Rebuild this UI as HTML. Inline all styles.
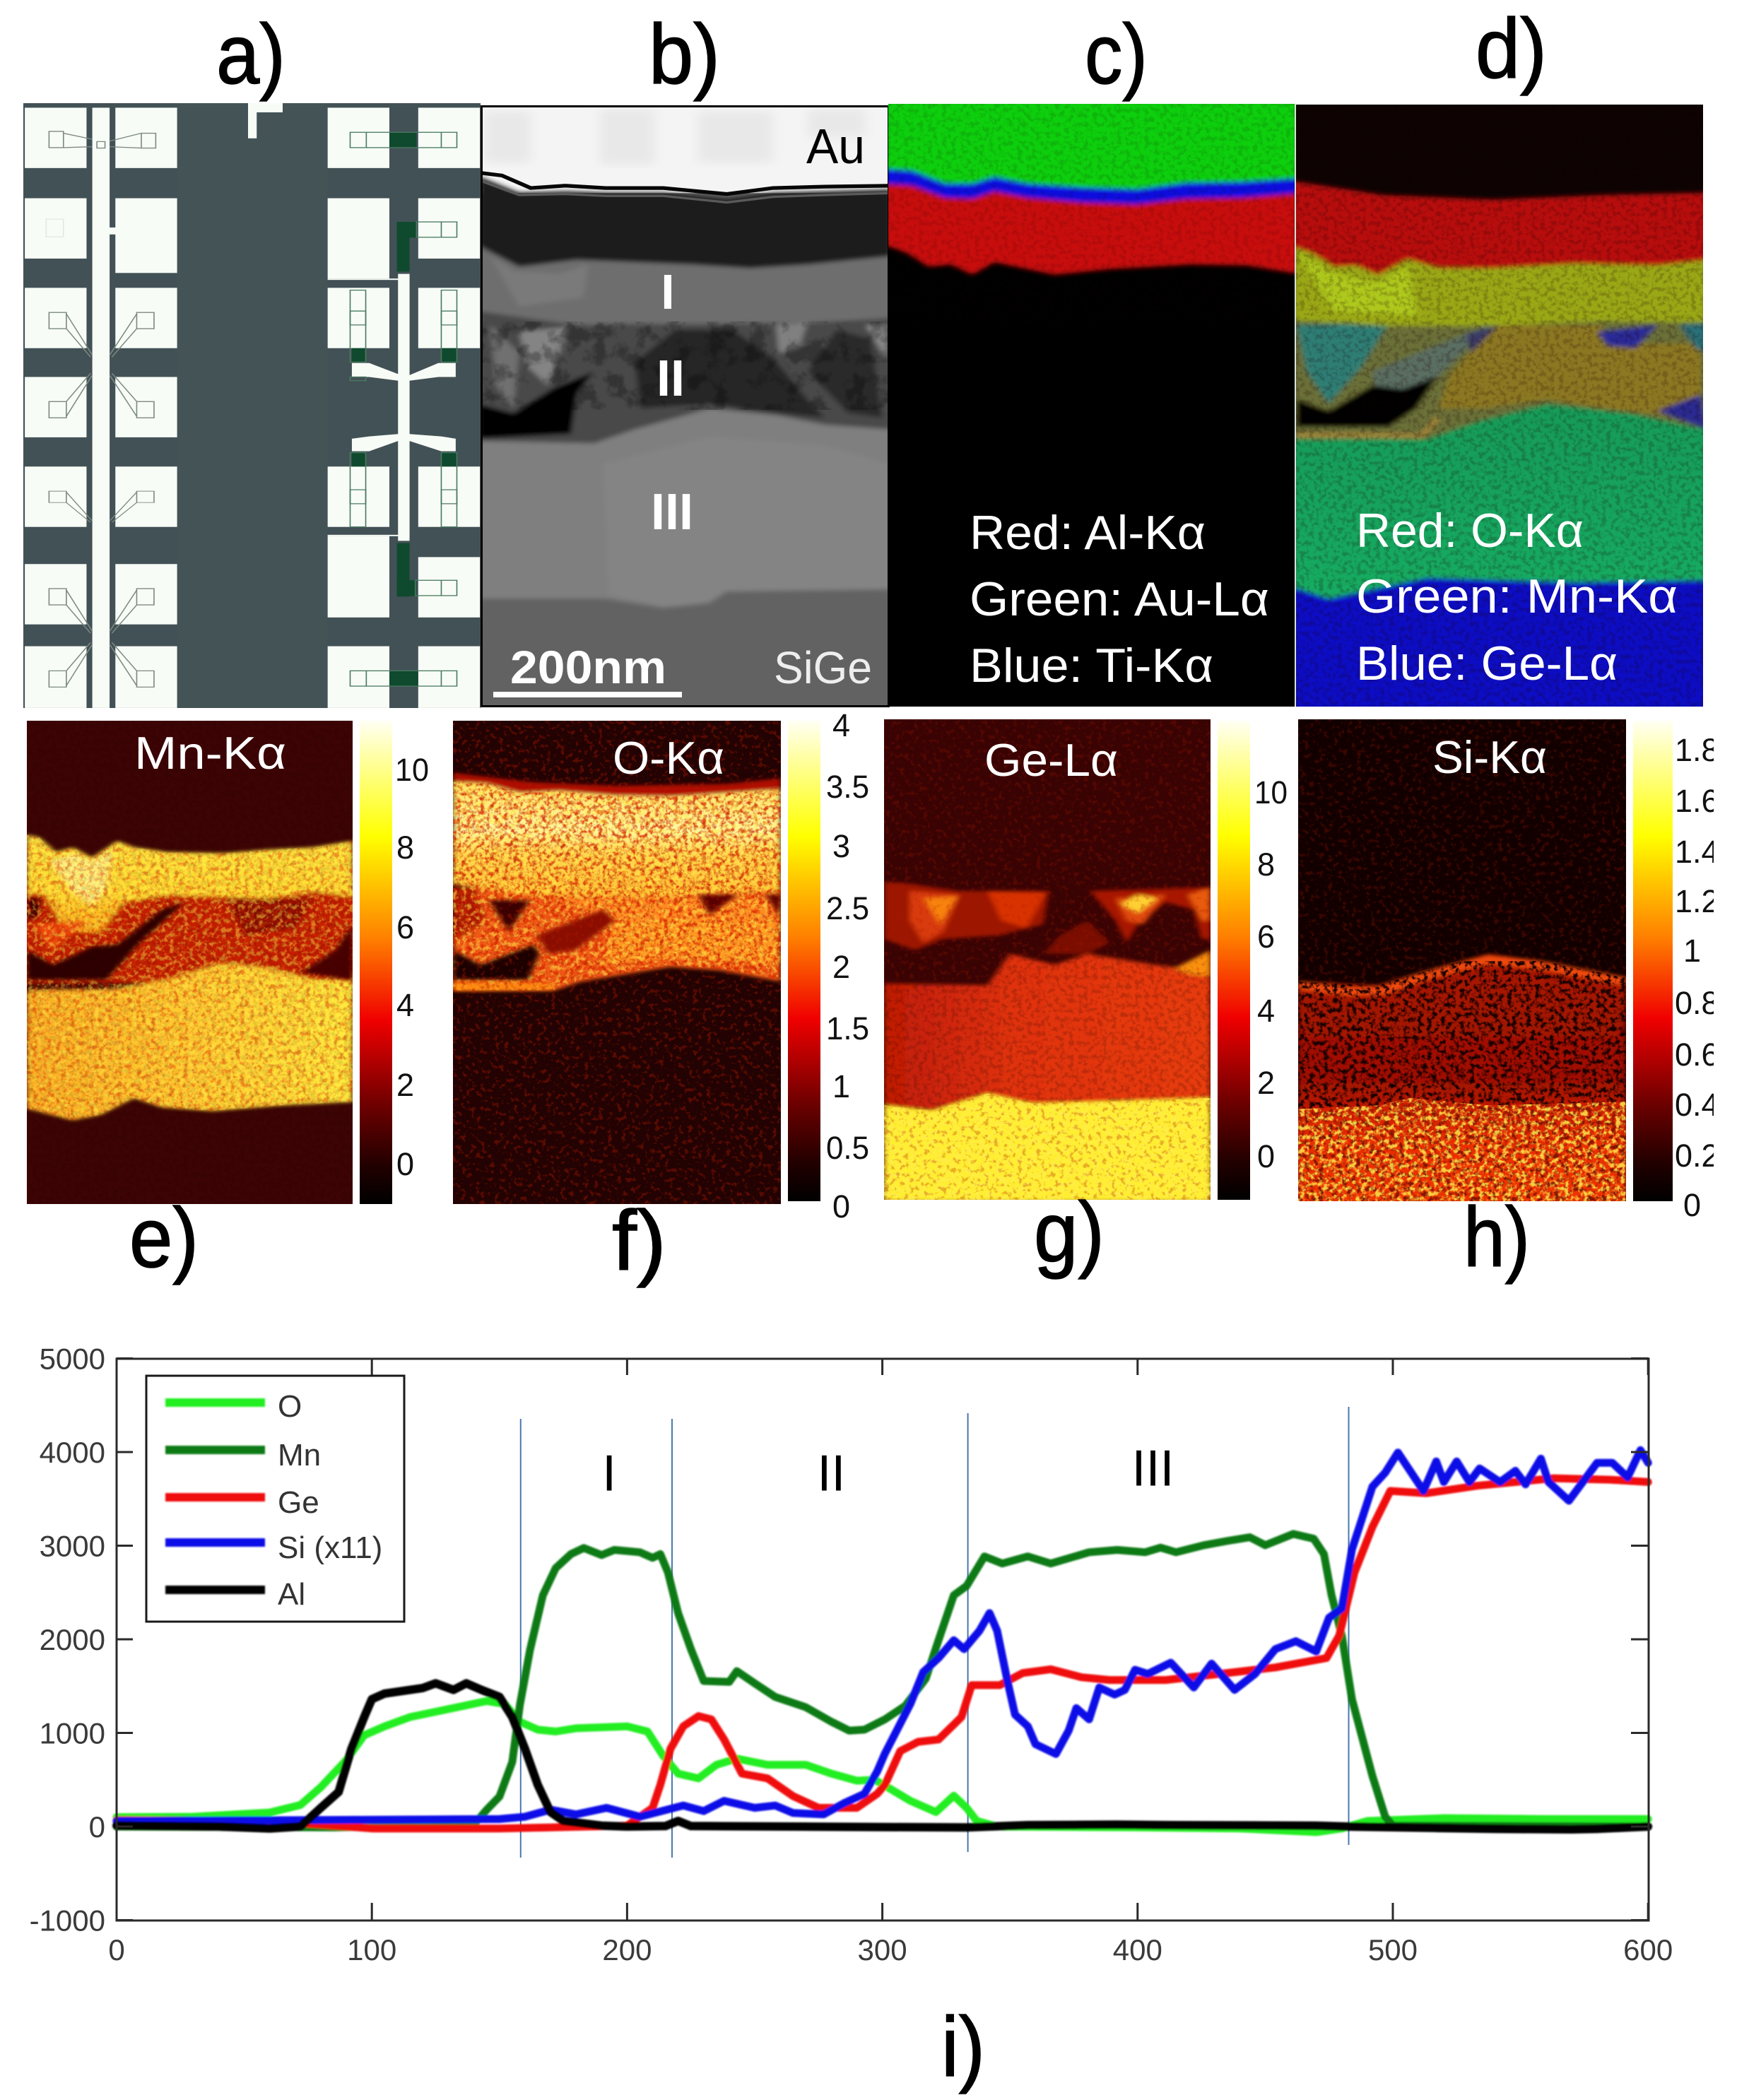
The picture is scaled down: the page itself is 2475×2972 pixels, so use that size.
<!DOCTYPE html>
<html lang="en">
<head>
<meta charset="utf-8">
<title>Multi-panel microscopy and EDX line profile figure</title>
<style>
html,body{margin:0;padding:0;background:#fff}
svg{display:block}
text{font-family:"Liberation Sans","DejaVu Sans",sans-serif}
</style>
</head>
<body>
<svg xmlns="http://www.w3.org/2000/svg" width="2475" height="2972" viewBox="0 0 2475 2972">
<defs>
  <linearGradient id="hot" x1="0" y1="1" x2="0" y2="0">
    <stop offset="0" stop-color="#000"/><stop offset=".08" stop-color="#220000"/><stop offset=".2" stop-color="#6b0000"/>
    <stop offset=".38" stop-color="#f00000"/><stop offset=".55" stop-color="#ff8000"/><stop offset=".76" stop-color="#ffff00"/>
    <stop offset=".92" stop-color="#ffffa0"/><stop offset="1" stop-color="#fffff4"/>
  </linearGradient>
  <linearGradient id="e3" x1="0" y1="0" x2="1" y2="0"><stop offset="0" stop-color="#fab024"/><stop offset=".5" stop-color="#ffcc30"/><stop offset="1" stop-color="#ffea3c"/></linearGradient>
  <linearGradient id="g3" x1="0" y1="0" x2="1" y2="0"><stop offset="0" stop-color="#c01c06"/><stop offset=".4" stop-color="#e03208"/><stop offset="1" stop-color="#e83c08"/></linearGradient>
  <linearGradient id="f1" x1="0" y1="0" x2="0" y2="1"><stop offset="0" stop-color="#ffe060"/><stop offset=".42" stop-color="#fff8a0"/><stop offset=".62" stop-color="#ffd850"/><stop offset="1" stop-color="#ffc030"/></linearGradient>
  <linearGradient id="e1" x1="0" y1="0" x2="0" y2="1"><stop offset="0" stop-color="#ffe840"/><stop offset=".6" stop-color="#ffdc30"/><stop offset="1" stop-color="#fca818"/></linearGradient>
  <linearGradient id="h3" x1="0" y1="0" x2="0" y2="1"><stop offset="0" stop-color="#a81400"/><stop offset=".5" stop-color="#a01000"/><stop offset=".66" stop-color="#c81c00"/><stop offset=".76" stop-color="#f03000"/><stop offset="1" stop-color="#f84000"/></linearGradient>
  <linearGradient id="d3" x1="0" y1="0" x2="0" y2="1"><stop offset="0" stop-color="#149a58"/><stop offset="1" stop-color="#12ac62"/></linearGradient>

  <filter id="soft2" x="-5%" y="-5%" width="110%" height="110%"><feGaussianBlur stdDeviation="5"/></filter>
  <filter id="soft5" x="-5%" y="-5%" width="110%" height="110%"><feGaussianBlur stdDeviation="10"/></filter>
  <filter id="softChart" x="-2%" y="-2%" width="104%" height="104%"><feGaussianBlur stdDeviation="1"/></filter>
  <filter id="softSwatch" x="-5%" y="-50%" width="110%" height="200%"><feGaussianBlur stdDeviation="1"/></filter>

  <filter id="grain-red" x="0" y="0" width="100%" height="100%" color-interpolation-filters="sRGB">
    <feTurbulence type="fractalNoise" baseFrequency="0.15" numOctaves="3" seed="4"/>
    <feColorMatrix values="0 0 0 0 .85  0 0 0 0 .16  0 0 0 0 0  4 0 0 0 -1.8"/>
  </filter>
  <filter id="grain-yellow" x="0" y="0" width="100%" height="100%" color-interpolation-filters="sRGB">
    <feTurbulence type="fractalNoise" baseFrequency="0.15" numOctaves="3" seed="11"/>
    <feColorMatrix values="0 0 0 0 1  0 0 0 0 .93  0 0 0 0 .3  4 0 0 0 -1.8"/>
  </filter>
  <filter id="grain-dark" x="0" y="0" width="100%" height="100%" color-interpolation-filters="sRGB">
    <feTurbulence type="fractalNoise" baseFrequency="0.15" numOctaves="3" seed="23"/>
    <feColorMatrix values="0 0 0 0 .1  0 0 0 0 0  0 0 0 0 0  4 0 0 0 -1.8"/>
  </filter>
  <filter id="grain-speck" x="0" y="0" width="100%" height="100%" color-interpolation-filters="sRGB">
    <feTurbulence type="fractalNoise" baseFrequency="0.15" numOctaves="3" seed="37"/>
    <feColorMatrix values="0 0 0 0 .7  0 0 0 0 .1  0 0 0 0 0  6 0 0 0 -3.3"/>
  </filter>
  <filter id="grain-grey" x="0" y="0" width="100%" height="100%" color-interpolation-filters="sRGB">
    <feTurbulence type="fractalNoise" baseFrequency="0.035" numOctaves="4" seed="8"/>
    <feColorMatrix values="0 0 0 0 0  0 0 0 0 0  0 0 0 0 0  5 0 0 0 -2.4"/>
  </filter>

  <clipPath id="clip-a"><rect x="33" y="146" width="647" height="856"/></clipPath>
  <clipPath id="clip-b"><rect x="680" y="149" width="578" height="852"/></clipPath>
  <clipPath id="clip-c"><rect x="1257" y="147" width="575" height="853"/></clipPath>
  <clipPath id="clip-d"><rect x="1834" y="148" width="576" height="852"/></clipPath>
  <clipPath id="clip-e"><rect x="38" y="1020" width="461" height="684"/></clipPath>
  <clipPath id="clip-f"><rect x="641" y="1020" width="464" height="684"/></clipPath>
  <clipPath id="clip-g"><rect x="1251" y="1018" width="462" height="680"/></clipPath>
  <clipPath id="clip-h"><rect x="1837" y="1018" width="464" height="682"/></clipPath>
  <clipPath id="clip-h-labels"><rect x="2360" y="1030" width="65" height="700"/></clipPath>

  <clipPath id="e-layers"><polygon transform="translate(0,1010) scale(.7908,.523)" points="48,328 70,335 100,375 130,362 165,390 210,345 240,362 300,375 400,378 480,368 560,362 631,345 631,1050 500,1060 380,1075 290,1065 240,1040 180,1085 130,1100 48,1068"/></clipPath>
  <clipPath id="f-layers"><polygon transform="translate(0,1010) scale(.7908,.523)" points="811,185 870,190 930,215 1000,210 1100,222 1200,225 1300,215 1397,205 1397,720 1290,690 1200,680 1040,720 990,748 811,748"/></clipPath>
  <clipPath id="g-bottom"><polygon transform="translate(1240,1010) scale(.7874,.523)" points="14,1060 100,1075 200,1028 280,1055 400,1050 601,1040 601,1315 14,1315"/></clipPath>
  <clipPath id="g-mid"><polygon transform="translate(1240,1010) scale(.7874,.523)" points="14,730 200,735 240,650 320,680 380,650 500,680 560,690 601,710 601,1040 400,1050 280,1055 200,1028 100,1075 14,1060"/></clipPath>
  <clipPath id="h-lower"><polygon transform="translate(1240,1010) scale(.7874,.523)" points="758,725 900,735 980,700 1100,650 1200,670 1347,715 1347,1320 758,1320"/></clipPath>
  <clipPath id="h-bottom"><polygon transform="translate(1240,1010) scale(.7874,.523)" points="758,1070 900,1060 960,1040 1100,1060 1347,1050 1347,1320 758,1320"/></clipPath>

  <g id="tap-device" fill="none" stroke="#7d8a82" stroke-width="2">
    <path d="M85 0h30v35h-30zM115 3L160 92M115 35L157 96M237 0h30v35h-30zM237 3L190 92M237 35L194 96"/>
  </g>
</defs>

<rect width="2475" height="2972" fill="#fff"/>

<!-- PANEL A -->
<g clip-path="url(#clip-a)">
  <g transform="scale(.8163,.657)">
    <rect x="40" y="222" width="800" height="1310" fill="#425156"/>
    <rect x="307" y="222" width="261" height="1310" fill="#445356"/>
    <g fill="#f8fcf6">
      <rect x="43" y="232" width="107" height="130"/><rect x="200" y="232" width="107" height="130"/>
      <rect x="43" y="427" width="107" height="130"/><rect x="200" y="427" width="107" height="161"/>
      <rect x="43" y="620" width="107" height="130"/><rect x="200" y="620" width="107" height="130"/>
      <rect x="43" y="812" width="107" height="130"/><rect x="200" y="812" width="107" height="130"/>
      <rect x="43" y="1005" width="107" height="130"/><rect x="200" y="1005" width="107" height="130"/>
      <rect x="43" y="1215" width="107" height="130"/><rect x="200" y="1215" width="107" height="130"/>
      <rect x="43" y="1392" width="107" height="133"/><rect x="200" y="1392" width="107" height="133"/>
      <rect x="160" y="232" width="30" height="1293"/>
      <rect x="188" y="490" width="18" height="15"/>
    </g>
    <g>
      <path d="M85 283h25v35h-25zM110 287L160 300M110 318L160 316M245 287h25v32h-25zM245 287L190 304M245 319L190 316M168 305h14v14h-14z" fill="none" stroke="#7d8a82" stroke-width="2"/>
      <use href="#tap-device" transform="translate(0,673)"/>
      <use href="#tap-device" transform="translate(0,900) scale(1,-1)"/>
      <use href="#tap-device" transform="translate(0,1058) scale(1,.7)"/>
      <use href="#tap-device" transform="translate(0,1268)"/>
      <use href="#tap-device" transform="translate(0,1480) scale(1,-1)"/>
      <path d="M80 472h30v38h-30z" fill="none" stroke="#e4e8e4" stroke-width="2"/>
    </g>
    <g fill="#f8fcf6">
      <rect x="568" y="232" width="107" height="130"/><rect x="725" y="232" width="107" height="130"/>
      <rect x="568" y="427" width="107" height="173"/><rect x="725" y="427" width="107" height="130"/>
      <rect x="568" y="620" width="107" height="130"/><rect x="725" y="620" width="107" height="130"/>
      <rect x="568" y="1005" width="107" height="130"/><rect x="725" y="1005" width="107" height="130"/>
      <rect x="568" y="1155" width="107" height="175"/><rect x="725" y="1200" width="107" height="130"/>
      <rect x="568" y="1392" width="107" height="133"/><rect x="725" y="1392" width="107" height="133"/>
      <rect x="690" y="590" width="20" height="575"/>
      <rect x="568" y="600" width="125" height="3"/><rect x="568" y="1152" width="125" height="3"/>
      <polygon points="610,782 640,782 695,808 710,808 760,782 790,782 790,812 760,812 710,820 690,820 640,812 610,812"/>
      <polygon points="610,945 640,940 690,935 710,935 765,940 790,945 790,972 765,972 710,950 690,950 640,972 610,972"/>
      <rect x="430" y="222" width="60" height="20"/><rect x="430" y="222" width="15" height="76"/>
    </g>
    <g fill="#0f4a2e">
      <rect x="675" y="285" width="47" height="33"/><rect x="688" y="478" width="34" height="34"/><rect x="688" y="478" width="22" height="107"/>
      <rect x="610" y="750" width="25" height="30"/><rect x="765" y="750" width="27" height="30"/>
      <rect x="610" y="975" width="25" height="30"/><rect x="765" y="975" width="27" height="30"/>
      <rect x="688" y="1170" width="22" height="115"/><rect x="688" y="1250" width="34" height="34"/>
      <rect x="675" y="1445" width="50" height="33"/>
    </g>
    <g fill="none" stroke="#4a7a60" stroke-width="2">
      <rect x="607" y="285" width="185" height="33"/><path d="M635 285v33M765 285v33"/>
      <rect x="722" y="478" width="70" height="33"/><path d="M765 478v33"/>
      <rect x="607" y="625" width="27" height="155"/><rect x="765" y="625" width="27" height="155"/>
      <path d="M607 670h27v30h-27zM765 670h27v30h-27zM607 1055h27v30h-27zM765 1055h27v30h-27z"/>
      <rect x="607" y="812" width="27" height="8"/>
      <rect x="607" y="975" width="27" height="160"/><rect x="765" y="975" width="27" height="160"/>
      <rect x="720" y="1250" width="72" height="33"/><path d="M765 1250v33"/>
      <rect x="607" y="1445" width="185" height="33"/><path d="M635 1445v33M765 1445v33"/>
    </g>
  </g>
</g>

<!-- PANEL B -->
<g clip-path="url(#clip-b)">
  <rect x="680" y="149" width="578" height="852" fill="#626262"/>
  <g transform="scale(.8163,.657)">
    <rect x="833" y="226" width="710" height="190" fill="#f4f4f4"/>
    <g fill="#e8e8e8" filter="url(#soft5)">
      <rect x="840" y="240" width="80" height="110"/><rect x="1040" y="235" width="95" height="120"/><rect x="1210" y="240" width="130" height="110"/><rect x="1400" y="235" width="100" height="60"/>
    </g>
    <g filter="url(#soft2)">
      <polygon fill="#7f7f7f" points="830,950 1030,955 1100,925 1230,880 1350,895 1430,915 1545,925 1545,1270 1260,1275 1230,1300 1150,1310 1050,1290 830,1290"/>
      <polygon fill="#848484" points="1045,1000 1230,940 1430,960 1545,1000 1545,1268 1258,1272 1225,1295 1150,1305 1055,1280 1050,1120"/>
      <polygon fill="#4a4a4a" points="830,670 1000,695 1200,700 1400,695 1545,680 1545,925 1430,915 1350,895 1230,880 1100,925 1030,955 830,950"/>
      <polygon fill="#282828" points="1100,780 1170,710 1270,710 1340,770 1400,860 1430,900 1350,890 1230,870 1110,880"/>
      <polygon fill="#2a2a2a" points="1400,800 1450,710 1510,730 1530,900 1470,890"/>
      <polygon fill="#848484" points="900,715 985,705 950,830 915,790"/>
      <polygon fill="#707070" points="850,700 900,760 890,880 860,830"/>
      <polygon fill="#808080" points="1345,700 1400,695 1385,750 1350,760"/>
      <polygon fill="#888888" points="1500,700 1540,700 1535,770"/>
      <polygon fill="#050505" points="830,870 890,890 960,835 1030,800 1000,850 990,935 830,945"/>
      <polygon fill="#6e6e6e" points="830,530 900,575 1000,560 1100,565 1200,570 1300,578 1400,570 1545,552 1545,685 1400,695 1200,695 1000,700 830,670"/>
      <polygon fill="#7a7a7a" points="850,550 890,585 970,590 1020,570 1010,640 900,660"/>
      <polygon fill="#1e1e1e" points="830,380 900,415 980,412 1050,415 1150,415 1260,428 1340,415 1430,412 1545,408 1545,552 1400,570 1300,578 1200,570 1100,565 1000,560 900,575 830,530"/>
    </g>
    <polyline fill="none" stroke="#5a5a5a" stroke-width="5" points="830,388 900,420 980,418 1050,422 1150,422 1260,436 1340,424 1430,420 1545,416"/>
    <polyline fill="none" stroke="#060606" stroke-width="8" points="830,372 870,378 920,405 980,400 1050,405 1150,405 1260,418 1340,405 1430,402 1545,400"/>
  </g>
  <rect x="680" y="455" width="578" height="125" filter="url(#grain-grey)" opacity=".28"/>
  <rect x="698" y="979" width="267" height="8" fill="#fff"/>
</g>
<rect x="681.500" y="150.500" width="576" height="849" fill="none" stroke="#000" stroke-width="3"/>
<text x="1141" y="231" font-size="70" textLength="83" lengthAdjust="spacingAndGlyphs" fill="#000">Au</text>
<text x="945" y="437" font-size="70" font-weight="700" text-anchor="middle" fill="#fff">I</text>
<text x="949" y="560" font-size="72" font-weight="700" text-anchor="middle" fill="#fff">II</text>
<text x="951" y="749" font-size="72" font-weight="700" text-anchor="middle" fill="#fff">III</text>
<text x="722" y="967" font-size="66" font-weight="700" textLength="221" lengthAdjust="spacingAndGlyphs" fill="#fff">200nm</text>
<text x="1095" y="967" font-size="64" textLength="139" lengthAdjust="spacingAndGlyphs" fill="#eee">SiGe</text>

<!-- PANEL C -->
<g clip-path="url(#clip-c)">
  <rect x="1257" y="147" width="575" height="853" fill="#000"/>
  <g transform="translate(1260,0) scale(.7752,.657)" filter="url(#soft2)">
    <polygon fill="#c80a0a" points="-10,392 40,392 100,420 150,422 190,405 250,420 350,430 450,434 540,420 640,418 745,408 745,590 650,572 550,570 400,580 300,592 190,565 150,592 110,570 70,575 30,545 0,532 -10,532"/>
    <polygon fill="#0ecf0e" points="-10,215 745,215 745,390 640,398 540,400 450,414 350,410 250,402 190,388 150,402 100,402 40,374 -10,370"/>
    <polygon fill="#0808e0" points="-10,364 40,368 100,396 150,396 190,381 250,396 350,404 450,408 540,394 640,392 745,384 745,416 640,426 540,428 450,440 350,436 250,426 190,412 150,428 100,426 40,400 -10,396"/>
  </g>
  <rect x="1257" y="147" width="575" height="310" filter="url(#grain-dark)" opacity=".12"/>
</g>
<rect x="1832" y="147" width="2" height="853" fill="#d8e4d8"/>
<g fill="#fff" font-size="68">
  <text x="1372" y="777" textLength="334" lengthAdjust="spacingAndGlyphs">Red: Al-Kα</text>
  <text x="1372" y="871" textLength="424" lengthAdjust="spacingAndGlyphs">Green: Au-Lα</text>
  <text x="1372" y="965" textLength="345" lengthAdjust="spacingAndGlyphs">Blue: Ti-Kα</text>
</g>

<!-- PANEL D -->
<g clip-path="url(#clip-d)">
  <rect x="1834" y="148" width="576" height="852" fill="#0d0303"/>
  <g transform="translate(1260,0) scale(.7752,.657)">
    <g filter="url(#soft2)">
      <polygon fill="#0a0ac4" points="735,1240 1490,1240 1490,1530 735,1530"/>
      <polygon fill="#b81010" points="735,390 900,420 1100,430 1300,420 1490,415 1490,600 735,600"/>
      <polygon fill="#6a7038" points="735,680 1490,680 1490,930 735,950"/>
      <polygon fill="#2e7e74" points="741,700 910,695 860,790 800,870 760,800"/>
      <polygon fill="#5a6e62" points="880,800 1100,695 1000,810 890,880"/>
      <polygon fill="#8c7822" points="1100,700 1300,700 1300,740 1480,740 1480,860 1420,895 1300,880 1200,860 1080,880 1000,880 1020,810"/>
      <polygon fill="#2a2c98" points="1290,715 1400,700 1360,750 1310,745"/>
      <polygon fill="#2a6f78" points="1440,700 1490,695 1490,760 1470,750"/>
      <polygon fill="#2c2c90" points="1400,885 1480,850 1490,925"/>
      <polygon fill="#3a3a66" points="1050,720 1110,700 1060,760"/>
      <polygon fill="#050303" points="741,860 800,885 880,830 935,838 1000,810 960,880 910,920 741,920"/>
      <polygon fill="#9aa818" points="735,532 770,545 810,575 850,572 890,592 945,558 1000,578 1100,578 1250,568 1400,572 1490,560 1490,695 1300,692 1100,702 900,702 735,690"/>
      <polygon fill="#aec81c" points="745,545 810,590 890,610 945,575 960,680 810,670"/>
      <polygon fill="url(#d3)" points="735,945 980,945 1080,905 1200,870 1350,890 1490,925 1490,1250 1250,1255 980,1245 800,1290 735,1265"/>
      <polyline fill="none" stroke="#a88838" stroke-width="9" points="741,938 900,938 970,940 1000,900"/>
    </g>
  </g>
  <rect x="1834" y="148" width="576" height="852" filter="url(#grain-dark)" opacity=".2"/>
</g>
<g fill="#fff" font-size="68">
  <text x="1919" y="774" textLength="322" lengthAdjust="spacingAndGlyphs">Red: O-Kα</text>
  <text x="1919" y="867" textLength="455" lengthAdjust="spacingAndGlyphs">Green: Mn-Kα</text>
  <text x="1919" y="962" textLength="370" lengthAdjust="spacingAndGlyphs">Blue: Ge-Lα</text>
</g>

<!-- PANEL E -->
<g clip-path="url(#clip-e)">
  <rect x="38" y="1020" width="461" height="684" fill="#3c0404"/>
  <g transform="translate(0,1010) scale(.7908,.523)" filter="url(#soft2)">
    <polygon fill="#c01a02" points="40,480 640,480 640,725 40,730"/>
    <polygon fill="url(#e1)" points="48,328 70,335 100,375 130,362 165,390 210,345 240,362 300,375 400,378 480,368 560,362 631,345 631,495 560,480 480,500 300,490 220,510 180,590 120,590 80,490 48,485"/>
    <polygon fill="#fff080" points="90,400 130,380 165,400 200,370 190,470 165,520 130,480"/>
    <polygon fill="#3a0303" points="48,495 75,500 70,550 48,560"/>
    <polygon fill="#8c0e00" points="400,500 560,500 530,580 440,600"/>
    <polygon fill="#f04808" points="60,570 160,560 90,640"/>
    <polygon fill="url(#e3)" points="48,748 200,745 300,720 400,675 480,690 560,720 631,725 631,1050 500,1060 380,1075 290,1065 240,1040 180,1085 130,1100 48,1068"/>
  </g>
  <g clip-path="url(#e-layers)">
    <rect x="38" y="1020" width="461" height="684" filter="url(#grain-red)" opacity=".45"/>
    <rect x="38" y="1020" width="461" height="684" filter="url(#grain-yellow)" opacity=".45"/>
  </g>
  <g transform="translate(0,1010) scale(.7908,.523)" filter="url(#soft2)">
    <polygon fill="#2e0202" points="48,640 95,680 165,630 210,625 290,530 330,510 250,620 190,720 48,720"/>
    <polygon fill="#4a0303" points="600,640 631,570 631,720 540,700"/>
  </g>
  <rect x="38" y="1020" width="461" height="684" filter="url(#grain-dark)" opacity=".1"/>
</g>
<text x="190" y="1088" font-size="65" fill="#fff" textLength="215" lengthAdjust="spacingAndGlyphs">Mn-Kα</text>
<rect x="509" y="1020" width="46" height="684" fill="url(#hot)"/>
<g font-size="45" fill="#111">
  <text x="559" y="1105" textLength="48" lengthAdjust="spacingAndGlyphs">10</text>
  <text x="561" y="1215">8</text>
  <text x="561" y="1328">6</text>
  <text x="561" y="1438">4</text>
  <text x="561" y="1551">2</text>
  <text x="561" y="1663">0</text>
</g>

<!-- PANEL F -->
<g clip-path="url(#clip-f)">
  <rect x="641" y="1020" width="464" height="684" fill="#220202"/>
  <g transform="translate(0,1010) scale(.7908,.523)" filter="url(#soft2)">
    <polygon fill="#b01000" points="811,160 950,185 1100,195 1300,190 1397,175 1397,230 811,230"/>
    <polygon fill="#f05818" points="811,470 1397,470 1397,725 1290,695 1200,685 1040,725 990,750 811,750"/>
    <polygon fill="url(#f1)" points="811,185 870,190 930,215 1000,210 1100,222 1200,225 1300,215 1397,205 1397,480 1250,490 1100,495 950,490 860,470 811,460"/>
    <polygon fill="#a81400" points="811,470 850,465 870,560 820,610 811,600"/>
    <polygon fill="#ff9820" points="1100,560 1390,560 1390,680 1200,660 1080,680"/>
    <polygon fill="#ff8a20" points="1000,500 1390,500 1390,560 1100,560"/>
  </g>
  <g clip-path="url(#f-layers)">
    <rect x="641" y="1020" width="464" height="684" filter="url(#grain-red)" opacity=".8"/>
    <rect x="641" y="1020" width="464" height="684" filter="url(#grain-yellow)" opacity=".55"/>
  </g>
  <g transform="translate(0,1010) scale(.7908,.523)" filter="url(#soft2)">
    <polygon fill="#3a0300" points="875,505 948,505 910,590"/>
    <polygon fill="#5a0600" points="1250,490 1320,490 1270,545"/>
    <polygon fill="#8a0c00" points="960,600 1080,530 1100,560 1030,640 980,650"/>
    <polygon fill="#5a0500" points="1370,490 1397,490 1397,550"/>
    <polygon fill="#1c0000" points="811,640 860,680 955,625 965,650 945,720 811,720"/>
    <polygon fill="#ff9010" points="811,730 990,732 990,745 811,748"/>
  </g>
  <rect x="641" y="1020" width="464" height="684" filter="url(#grain-speck)" opacity=".4"/>
</g>
<text x="867" y="1095" font-size="65" fill="#fff" textLength="158" lengthAdjust="spacingAndGlyphs">O-Kα</text>
<rect x="1115" y="1020" width="46" height="680" fill="url(#hot)"/>
<g font-size="45" fill="#111">
  <text x="1178" y="1042">4</text>
  <text x="1169" y="1129" textLength="61" lengthAdjust="spacingAndGlyphs">3.5</text>
  <text x="1178" y="1213">3</text>
  <text x="1169" y="1301" textLength="61" lengthAdjust="spacingAndGlyphs">2.5</text>
  <text x="1178" y="1384">2</text>
  <text x="1169" y="1471" textLength="61" lengthAdjust="spacingAndGlyphs">1.5</text>
  <text x="1178" y="1553">1</text>
  <text x="1169" y="1640" textLength="61" lengthAdjust="spacingAndGlyphs">0.5</text>
  <text x="1178" y="1723">0</text>
</g>

<!-- PANEL G -->
<g clip-path="url(#clip-g)">
  <rect x="1251" y="1018" width="462" height="680" fill="#3a0303"/>
  <g transform="translate(1240,1010) scale(.7874,.523)" filter="url(#soft2)">
    <polygon fill="#9c1404" points="14,455 60,460 150,480 310,480 300,570 220,600 120,610 70,640 14,610"/>
    <polygon fill="#7a0e02" points="330,600 380,560 420,620 380,650 300,650"/>
    <polygon fill="#a81604" points="385,480 601,470 601,610 585,610 570,530 520,510 470,570 450,620 430,560"/>
    <polygon fill="#d83a08" points="60,480 150,490 120,590 85,620 60,560"/>
    <polygon fill="#f8820c" points="85,500 145,495 115,570"/>
    <polygon fill="#d83206" points="200,480 305,485 270,580 225,560"/>
    <polygon fill="#e04808" points="430,500 520,490 480,570 450,560"/>
    <polygon fill="#ffd030" points="440,515 470,490 505,500 470,540"/>
    <polygon fill="#e85a0c" points="560,490 601,470 601,560 585,560"/>
    <polygon fill="url(#g3)" points="14,730 200,735 240,650 320,680 380,650 500,680 560,690 601,710 601,1040 400,1050 280,1055 200,1028 100,1075 14,1060"/>
    <polygon fill="#f8900c" points="535,690 601,640 601,710 570,708"/>
    <polygon fill="#ffee30" points="14,1060 100,1075 200,1028 280,1055 400,1050 601,1040 601,1320 14,1320"/>
  </g>
  <g clip-path="url(#g-bottom)">
    <rect x="1251" y="1500" width="462" height="200" filter="url(#grain-yellow)" opacity=".8"/>
    <rect x="1251" y="1500" width="462" height="200" filter="url(#grain-speck)" opacity=".3"/>
  </g>
  <g clip-path="url(#g-mid)">
    <rect x="1251" y="1340" width="462" height="230" filter="url(#grain-dark)" opacity=".18"/>
  </g>
  <rect x="1251" y="1018" width="462" height="370" filter="url(#grain-speck)" opacity=".22"/>
</g>
<text x="1393" y="1098" font-size="65" fill="#fff" textLength="189" lengthAdjust="spacingAndGlyphs">Ge-Lα</text>
<rect x="1723" y="1020" width="46" height="678" fill="url(#hot)"/>
<g font-size="45" fill="#111">
  <text x="1775" y="1137" textLength="47" lengthAdjust="spacingAndGlyphs">10</text>
  <text x="1779" y="1239">8</text>
  <text x="1779" y="1341">6</text>
  <text x="1779" y="1446">4</text>
  <text x="1779" y="1548">2</text>
  <text x="1779" y="1652">0</text>
</g>

<!-- PANEL H -->
<g clip-path="url(#clip-h)">
  <rect x="1837" y="1018" width="464" height="682" fill="#120000"/>
  <rect x="1837" y="1018" width="464" height="420" filter="url(#grain-speck)" opacity=".25"/>
  <g transform="translate(1240,1010) scale(.7874,.523)" filter="url(#soft2)">
    <polygon fill="url(#h3)" points="758,725 900,735 980,700 1100,650 1200,670 1347,715 1347,1325 758,1325"/>
    <polyline fill="none" stroke="#f04a08" stroke-width="22" points="758,735 850,752 910,750 980,712 1100,665 1200,682 1347,725"/>
  </g>
  <g clip-path="url(#h-lower)">
    <rect x="1837" y="1360" width="464" height="340" filter="url(#grain-dark)" opacity="1"/>
  </g>
  <g clip-path="url(#h-bottom)">
    <rect x="1837" y="1540" width="464" height="160" fill="#e82800" opacity=".5"/>
    <rect x="1837" y="1540" width="464" height="160" filter="url(#grain-yellow)" opacity=".85"/>
  </g>
</g>
<text x="2027" y="1094" font-size="65" fill="#fff" textLength="162" lengthAdjust="spacingAndGlyphs">Si-Kα</text>
<rect x="2311" y="1020" width="56" height="680" fill="url(#hot)"/>
<g clip-path="url(#clip-h-labels)" font-size="45" fill="#111">
  <text x="2370" y="1077">1.8</text>
  <text x="2370" y="1149">1.6</text>
  <text x="2370" y="1221">1.4</text>
  <text x="2370" y="1291">1.2</text>
  <text x="2382" y="1361">1</text>
  <text x="2370" y="1435">0.8</text>
  <text x="2370" y="1508">0.6</text>
  <text x="2370" y="1579">0.4</text>
  <text x="2370" y="1651">0.2</text>
  <text x="2382" y="1721">0</text>
</g>

<!-- PANEL LETTERS -->
<g font-size="120" fill="#000" stroke="#000" stroke-width="1.500">
  <text x="306" y="118" textLength="98" lengthAdjust="spacingAndGlyphs">a)</text>
  <text x="918" y="118" textLength="101" lengthAdjust="spacingAndGlyphs">b)</text>
  <text x="1535" y="118" textLength="89" lengthAdjust="spacingAndGlyphs">c)</text>
  <text x="2088" y="110" textLength="101" lengthAdjust="spacingAndGlyphs">d)</text>
  <text x="183" y="1793" textLength="98" lengthAdjust="spacingAndGlyphs">e)</text>
  <text x="866" y="1797" textLength="77" lengthAdjust="spacingAndGlyphs">f)</text>
  <text x="1463" y="1785" textLength="100" lengthAdjust="spacingAndGlyphs">g)</text>
  <text x="2071" y="1792" textLength="94" lengthAdjust="spacingAndGlyphs">h)</text>
  <text x="1332" y="2938" textLength="62" lengthAdjust="spacingAndGlyphs">i)</text>
</g>

<!-- PANEL I : LINE PROFILE CHART -->
<g id="chart"></g>
</svg>

<script>
// Profile chart data (position along scan, counts)
const xTicks = [0, 100, 200, 300, 400, 500, 600];
const yTicks = [-1000, 0, 1000, 2000, 3000, 4000, 5000];

const oPos = [0,30,60,72,80,90,97,105,115,130,145,152,158,165,172,180,200,208,214,220,228,235,243,255,270,280,290,297,302,311,321,328,333,337,345,400,440,470,480,490,500,520,560,600];
const oVal = [100,105,150,230,420,710,975,1070,1170,1255,1340,1310,1120,1035,1015,1050,1070,1015,760,565,515,660,725,660,660,565,490,500,420,275,155,330,200,60,0,-10,-20,-60,-20,60,70,90,80,80];

const mnPos = [0,85,140,145,150,155,158,162,167,172,178,183,190,195,205,210,213,216,220,225,230,240,243,250,258,270,280,287,293,301,309,317,322,328,333,340,347,357,366,381,392,403,409,415,426,435,444,450,461,469,473,476,480,484,492,497,500,600];
const mnVal = [0,-10,20,180,320,690,1300,1890,2470,2760,2910,2975,2900,2955,2930,2870,2910,2715,2280,1895,1555,1545,1660,1530,1385,1275,1120,1025,1035,1145,1290,1580,1990,2470,2570,2885,2810,2885,2810,2930,2955,2930,2980,2930,3005,3050,3090,3005,3125,3075,2910,2470,2040,1360,540,105,10,0];

const gePos = [0,60,90,100,150,170,200,210,213,217,222,228,233,238,245,255,265,275,290,298,301,307,314,322,331,335,346,355,366,378,389,411,432,454,474,479,485,492,499,513,533,563,585,600];
const geVal = [70,60,0,-20,-20,-10,10,200,445,830,1070,1180,1145,930,565,515,325,200,200,350,445,805,905,930,1170,1510,1510,1640,1680,1595,1565,1565,1630,1700,1800,2040,2715,3200,3585,3560,3640,3720,3705,3680];

const siPos = [0,80,150,160,170,180,192,205,222,230,238,250,258,265,277,285,293,298,301,311,316,322,328,332,338,342,345,349,352,357,360,368,373,376,381,385,391,395,399,404,413,422,429,438,446,454,462,470,475,480,484,492,497,502,512,517,520,525,530,534,542,548,552,558,561,569,580,586,592,597,600];
const siVal = [60,70,80,105,180,130,200,105,225,165,275,200,225,145,130,250,350,590,780,1310,1650,1800,1990,1895,2090,2280,2090,1555,1195,1070,880,775,1025,1265,1145,1485,1410,1460,1675,1630,1750,1485,1740,1460,1630,1895,1980,1870,2230,2330,2960,3630,3780,3995,3585,3900,3680,3900,3680,3825,3680,3800,3655,3930,3680,3480,3885,3885,3730,4020,3885];

const alPos = [0,40,60,72,80,87,92,97,100,105,120,125,132,137,143,150,155,160,165,170,175,190,200,215,220,225,333,357,392,413,470,482,540,570,580,600];
const alVal = [10,0,-20,0,200,370,830,1170,1360,1420,1480,1530,1460,1530,1460,1385,1170,830,445,155,60,10,0,5,60,5,-10,15,20,15,10,0,-25,-30,-25,0];

const dividerPos = [158.3, 217.6, 333.5, 482.7];
const dividerTop = [4355, 4355, 4415, 4483];
const dividerBottom = [-332, -332, -272, -196];

const regionNames = ['I', 'II', 'III'];
const regionPos = [193, 280, 406];
const regionBase = [3590, 3590, 3640];

const legendNames = ['O', 'Mn', 'Ge', 'Si (x11)', 'Al'];

const plot = {left: 165, right: 2333, top: 1923, bottom: 2718};
const xScale = v => 165 + v * 3.612;
const yScale = v => 2585 - v * 0.1325;

const NS = 'http://www.w3.org/2000/svg';
const chart = document.getElementById('chart');

function make(tag, attrs, parent) {
  const el = document.createElementNS(NS, tag);
  for (const k in attrs) el.setAttribute(k, attrs[k]);
  (parent || chart).appendChild(el);
  return el;
}

// plot background
const plotBg = make('rect', {x: plot.left, y: plot.top, width: plot.right - plot.left, height: plot.bottom - plot.top, fill: '#fff'});



// region dividers
dividerPos.forEach((p, i) => {
  const d = make('line', {x1: xScale(p), x2: xScale(p), y1: yScale(dividerTop[i]), y2: yScale(dividerBottom[i]), stroke: '#4a78b0', 'stroke-width': 2});
  
  
});

// series
const seriesGroup = make('g', {filter: 'url(#softChart)', fill: 'none', 'stroke-linejoin': 'round', 'stroke-linecap': 'round'});



function drawSeries(pos, val, color, width) {
  const pts = pos.map((p, i) => xScale(p).toFixed(1) + ',' + yScale(val[i]).toFixed(1)).join(' ');
  return make('polyline', {points: pts, stroke: color, 'stroke-width': width}, seriesGroup);
}
const lineO = drawSeries(oPos, oVal, '#22ee22', 11);


const lineMn = drawSeries(mnPos, mnVal, '#0a7a12', 11);


const lineGe = drawSeries(gePos, geVal, '#f00808', 11);


const lineSi = drawSeries(siPos, siVal, '#0808e8', 11);


const lineAl = drawSeries(alPos, alVal, '#000', 12);



// axes frame
const frame = make('rect', {x: plot.left, y: plot.top, width: plot.right - plot.left, height: plot.bottom - plot.top, fill: 'none', stroke: '#2a2a2a', 'stroke-width': 3});



// ticks and labels
xTicks.forEach(t => {
  const x = xScale(t);
  const bt = make('line', {x1: x, x2: x, y1: plot.bottom, y2: plot.bottom - 25, stroke: '#2a2a2a', 'stroke-width': 3});
  
  
  const tt = make('line', {x1: x, x2: x, y1: plot.top, y2: plot.top + 23, stroke: '#2a2a2a', 'stroke-width': 3});
  
  
  const lab = make('text', {x: x, y: 2774, 'text-anchor': 'middle', 'font-size': 42, fill: '#3a3a3a'});
  lab.textContent = t;
  
  
});
yTicks.forEach(t => {
  const y = yScale(t);
  const lt = make('line', {x1: plot.left, x2: plot.left + 23, y1: y, y2: y, stroke: '#2a2a2a', 'stroke-width': 3});
  
  
  const rt = make('line', {x1: plot.right, x2: plot.right - 25, y1: y, y2: y, stroke: '#2a2a2a', 'stroke-width': 3});
  
  
  const lab = make('text', {x: 149, y: y + 15, 'text-anchor': 'end', 'font-size': 42, fill: '#3a3a3a'});
  lab.textContent = t;
  
  
});

// region labels
regionNames.forEach((n, i) => {
  const r = make('text', {x: xScale(regionPos[i]), y: yScale(regionBase[i]), 'text-anchor': 'middle', 'font-size': 72, fill: '#000'});
  r.textContent = n;
  
  
});

// legend
const legendBox = make('rect', {x: 207, y: 1947, width: 365, height: 348, fill: '#fff', stroke: '#1a1a1a', 'stroke-width': 3});


const legendColors = ['#22ee22', '#0a7a12', '#f00808', '#0808e8', '#000'];
const legendLineY = [1985, 2052, 2119, 2183, 2250];
const legendTextY = [2005, 2074, 2141, 2205, 2271];
legendNames.forEach((n, i) => {
  const ln = make('rect', {x: 234, width: 141, y: legendLineY[i] - 6, height: 12, fill: legendColors[i], filter: 'url(#softSwatch)'});
  
  
  const tx = make('text', {x: 393, y: legendTextY[i], 'font-size': 44, fill: '#333'});
  tx.textContent = n;
  
  
});
</script>
</body>
</html>
